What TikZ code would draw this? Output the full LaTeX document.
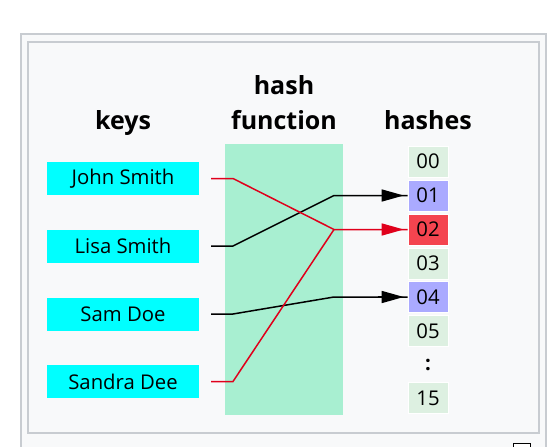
\documentclass[tikz,border=0pt]{standalone}
\usepackage{fontspec}
\setmainfont{Open Sans}
\usetikzlibrary{arrows.meta}
\definecolor{framegray}{HTML}{C8CCD1}
\definecolor{framebg}{HTML}{F8F9FA}
\definecolor{keycyan}{HTML}{00FFFF}
\definecolor{hashgreen}{HTML}{A8EFD1}
\definecolor{slotgreen}{HTML}{DDF0E1}
\definecolor{slotblue}{HTML}{AAAAFF}
\definecolor{slotred}{HTML}{F4444F}
\definecolor{linkred}{HTML}{E0001B}
\tikzset{
  heading/.style={font=\fontsize{25}{35}\selectfont\bfseries, align=center, inner sep=0pt},
  keybox/.style={fill=keycyan, minimum width=152pt, minimum height=33pt, inner sep=0pt, font=\fontsize{20.3}{22}\selectfont},
  slot/.style={fill=slotgreen, draw=white, line width=0.6pt, minimum width=40pt, minimum height=31pt, inner sep=0pt, font=\fontsize{20.3}{22}\selectfont},
  link/.style={line width=1.5pt, line join=miter},
  tip/.style={-{Triangle[length=22pt,width=12pt]}},
}
\begin{document}
\begin{tikzpicture}[x=1pt,y=-1pt]
\useasboundingbox (0,0) rectangle (547,447);
\fill[white] (0,0) rectangle (547,447);
% frames
\draw[framegray, fill=framebg, line width=2pt] (21,34) rectangle (546,470);
\draw[framegray, fill=framebg, line width=2pt] (28,42) rectangle (539,433);
\node[draw=black, fill=white, line width=0.8pt, minimum width=17pt, minimum height=14pt, inner sep=0pt, anchor=north west] (icon) at (512.5,443) {};
% hash function area
\node[fill=hashgreen, minimum width=118pt, minimum height=271pt, inner sep=0pt, anchor=north west] (hf) at (225,144) {};
% headings
\node[heading, anchor=base] (hkeys) at (123,129.5) {keys};
\node[heading, anchor=base] (hfun) at (284,129.5) {function};
\node[heading, anchor=base] (hhash) at (284,94.5) {hash};
\node[heading, anchor=base] (hhashes) at (428,129.5) {hashes};
% keys
\node[keybox] (john) at (123,178.5) {John Smith};
\node[keybox] (lisa) at (123,246) {Lisa Smith};
\node[keybox] (sam) at (123,314) {Sam Doe};
\node[keybox] (sandra) at (123,381.5) {Sandra Dee};
% slots
\node[slot] (h00) at (428,161.5) {00};
\node[slot, fill=slotblue] (h01) at (428,195.5) {01};
\node[slot, fill=slotred] (h02) at (428,229.5) {02};
\node[slot] (h03) at (428,263.5) {03};
\node[slot, fill=slotblue] (h04) at (428,297) {04};
\node[slot] (h05) at (428,331) {05};
\node[inner sep=0pt, font=\fontsize{20.3}{22}\selectfont\bfseries] (hdots) at (428,365) {:};
\node[slot] (h15) at (428,398) {15};
% bend points
\coordinate (jA) at (233,178.5);
\coordinate (lA) at (233,246);
\coordinate (sA) at (233,314);
\coordinate (dA) at (233,381.5);
\coordinate (jB) at (334,229.5);
\coordinate (lB) at (334,195.5);
\coordinate (sB) at (334,297);
% links
\draw[link, black] ([xshift=12pt]lisa.east) -- (lA) -- (lB) -- (lB -| h01.west);
\draw[link, black] ([xshift=12pt]sam.east) -- (sA) -- (sB) -- (sB -| h04.west);
\draw[link, linkred] ([xshift=12pt]john.east) -- (jA) -- (jB) -- (jB -| h02.west);
\draw[link, linkred] ([xshift=12pt]sandra.east) -- (dA) -- (jB);
% arrowheads
\draw[link, black, tip, shorten >=4pt] ([xshift=-30pt]h01.west) -- (h01.west);
\draw[link, black, tip, shorten >=4pt] ([xshift=-30pt]h04.west) -- (h04.west);
\draw[link, linkred, tip, shorten >=4pt] ([xshift=-30pt]h02.west) -- (h02.west);
\end{tikzpicture}
\end{document}
